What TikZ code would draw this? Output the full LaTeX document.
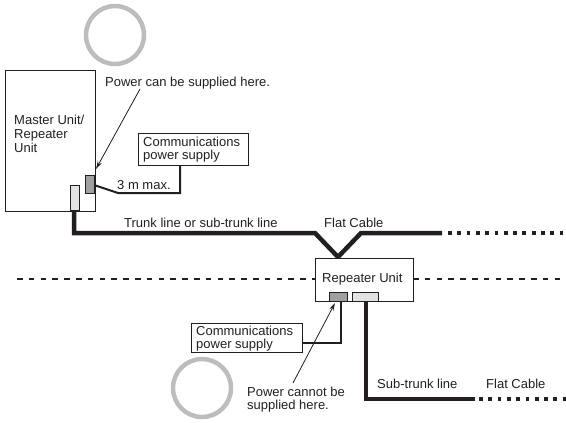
\documentclass[tikz,border=0pt]{standalone}
\usepackage{fontspec}
\setmainfont{Liberation Sans}
\usetikzlibrary{arrows.meta}
\definecolor{ink}{HTML}{231F20}
\definecolor{ringgray}{HTML}{BDBDBD}
\definecolor{darkconn}{HTML}{A0A0A0}
\definecolor{lightconn}{HTML}{E2E2E2}
\begin{document}
\begin{tikzpicture}[x=1bp,y=-1bp,
  lbl/.style={anchor=base west,inner sep=0,font=\fontsize{13bp}{15bp}\selectfont,text=ink},
  unitbox/.style={draw=ink,line width=0.9bp,fill=white},
  ring/.style={draw=ringgray,line width=4.5bp},
  conn/.style={draw=ink,line width=0.8bp},
  thickcable/.style={draw=ink,line width=4.5bp},
  thincable/.style={draw=ink,line width=2bp},
  dotcable/.style={draw=ink,line width=4.5bp,dash pattern=on 3.8bp off 5.5bp},
  dashline/.style={draw=ink,line width=1.8bp,dash pattern=on 5.5bp off 6.3bp},
  pointer/.style={draw=ink,line width=0.8bp,-{Stealth[length=8bp,width=4.5bp]}}
]
\useasboundingbox (0,0) rectangle (566,422);

% rings
\draw[ring] (115,35) circle (29);
\draw[ring] (202,388) circle (29);

% dashed separation line
\coordinate (dl0) at (17,279);
\coordinate (dl1) at (315,279);
\coordinate (dl2) at (413,279);
\coordinate (dl3) at (566,279);
\draw[dashline] (dl0) -- (dl1);
\draw[dashline] (dl2) -- (dl3);

% master unit
\draw[unitbox] (5,70) rectangle (95,211);
\node[lbl] (m1) at (14,124) {Master Unit/};
\node[lbl] (m2) at (14,138) {Repeater};
\node[lbl] (m3) at (14,152) {Unit};
\draw[conn,fill=darkconn] (85,175) rectangle (94,193);
\coordinate (mdark) at (94,185);

% trunk line
\coordinate (t0) at (74,210);
\coordinate (t1) at (74,233);
\coordinate (t2) at (315,233);
\coordinate (t3) at (338,257);
\coordinate (t4) at (361,233);
\coordinate (t5) at (442,233);
\coordinate (t6) at (448,233);
\coordinate (t7) at (566,233);
\draw[thickcable,line join=miter] (t0) -- (t1) -- (t2) -- (t3) -- (t4) -- (t5);
\draw[dotcable] (t6) -- (t7);
\draw[conn,fill=lightconn] (70,185) rectangle (79,210);

% comm supply 1
\node[unitbox,minimum width=110bp,minimum height=32bp,anchor=north west,inner sep=0] (cs1) at (138,133) {};
\node[lbl] (cs1a) at (143,146) {Communications};
\node[lbl] (cs1b) at (143,159) {power supply};
\coordinate (c1) at (118,193);
\coordinate (c2) at (180,193);
\draw[thincable,line join=miter] (mdark) -- (c1) -- (c2) -- (c2 |- cs1.south);
\node[lbl] (len) at (117,189) {3 m max.};

% power can be supplied
\node[lbl] (pcan) at (105,86) {Power can be supplied here.};
\coordinate (pa0) at (140,89);
\coordinate (pa1) at (96,169);
\draw[pointer] (pa0) -- (pa1);

% labels on trunk
\node[lbl] (trl) at (124,227) {Trunk line or sub-trunk line};
\node[lbl] (fc1) at (324,227) {Flat Cable};

% repeater unit
\node[unitbox,minimum width=98bp,minimum height=43bp,anchor=north west,inner sep=0] (rep) at (315,258) {};
\node[lbl] (repl) at (322,282) {Repeater Unit};
\draw[conn,fill=darkconn] (329,292) rectangle (347,301);
\draw[conn,fill=lightconn] (352,292) rectangle (378,301);

% comm supply 2
\node[unitbox,minimum width=111bp,minimum height=29bp,anchor=north west,inner sep=0] (cs2) at (191,323) {};
\node[lbl] (cs2a) at (196,335) {Communications};
\node[lbl] (cs2b) at (196,348) {power supply};
\coordinate (r0) at (341,301);
\coordinate (r1) at (341,343);
\draw[thincable,line join=miter] (r0) -- (r1) -- (cs2.east |- r1);

% sub-trunk
\coordinate (s0) at (366,301);
\coordinate (s1) at (366,399);
\coordinate (s2) at (475,399);
\coordinate (s3) at (479,399);
\coordinate (s4) at (566,399);
\draw[thickcable,line join=miter] (s0) -- (s1) -- (s2);
\draw[dotcable] (s3) -- (s4);
\node[lbl] (stl) at (377,388) {Sub-trunk line};
\node[lbl] (fc2) at (486,388) {Flat Cable};

% power cannot be supplied
\node[lbl] (pno1) at (247,396) {Power cannot be};
\node[lbl] (pno2) at (247,409) {supplied here.};
\coordinate (pb0) at (293,383);
\coordinate (pb1) at (335,303);
\draw[pointer] (pb0) -- (pb1);
\end{tikzpicture}
\end{document}
